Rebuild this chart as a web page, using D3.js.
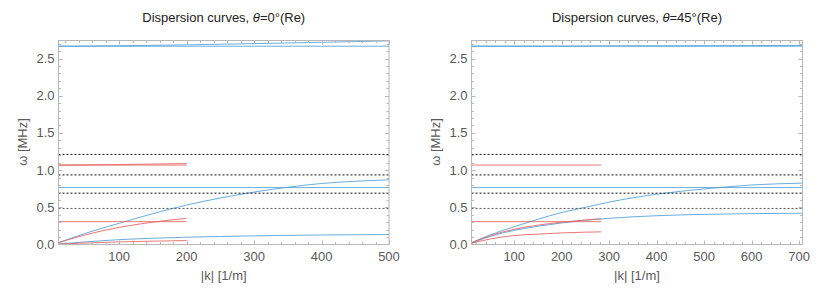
<!DOCTYPE html>
<html>
<head>
<meta charset="UTF-8">
<title>Dispersion curves</title>
<script src="https://cdn.jsdelivr.net/npm/d3@7"></script>
<style>
body { margin: 0; background: #fff; font-family: "Liberation Sans", Arial, sans-serif; }
.ticklabel { font-size: 13px; fill: #5a5a5a; }
.title { font-size: 13px; fill: #222; }
.axislabel { font-size: 13px; fill: #5a5a5a; }
.frame { fill: none; stroke: #b8b8b8; stroke-width: 1; }
.tick { stroke: #b8b8b8; stroke-width: 1; }
</style>
</head>
<body>
<svg id="chart" width="830" height="292"></svg>
<script>
// horizontal reference frequencies (dotted), MHz
var refLevels = [1.211, 0.935, 0.690, 0.485];

// ---- theta = 0 deg ----
var k0Full  = [10, 500];
var k0Short = [10, 200];
var k0Curve = [10, 50, 100, 150, 200, 250, 300, 350, 400, 450, 500];
var k0Red   = [10, 50, 100, 150, 200];

var w0TopFlat   = [2.665, 2.665];
var w0TopRise   = [2.665, 2.667, 2.671, 2.677, 2.684, 2.692, 2.700, 2.709, 2.718, 2.727, 2.737];
var w0RedFlatHi = [1.068, 1.068];
var w0RedRiseHi = [1.066, 1.070, 1.075, 1.081, 1.088];
var w0BlueFlat  = [0.765, 0.765];
var w0BlueRise  = [0.025, 0.15, 0.285, 0.415, 0.53, 0.625, 0.705, 0.77, 0.82, 0.85, 0.87];
var w0RedFlatLo = [0.307, 0.307];
var w0RedRise   = [0.025, 0.13, 0.23, 0.30, 0.352];
var w0BlueLow   = [0.006, 0.035, 0.065, 0.084, 0.098, 0.108, 0.116, 0.123, 0.128, 0.131, 0.134];
var w0RedLow    = [0.005, 0.02, 0.035, 0.045, 0.053];

// ---- theta = 45 deg ----
var k45Full  = [10, 707];
var k45Short = [10, 283];
var k45Curve = [10, 50, 100, 150, 200, 250, 300, 400, 500, 600, 707];
var k45Red   = [10, 50, 100, 150, 200, 250, 283];

var w45TopFlat   = [2.665, 2.665];
var w45TopRise   = [2.665, 2.665, 2.666, 2.666, 2.667, 2.668, 2.669, 2.670, 2.672, 2.674, 2.676];
var w45RedFlatHi = [1.068, 1.068];
var w45BlueFlat  = [0.765, 0.765];
var w45BlueRise  = [0.025, 0.13, 0.24, 0.34, 0.43, 0.50, 0.57, 0.676, 0.747, 0.80, 0.825];
var w45RedFlatLo = [0.307, 0.307];
var w45RedRise   = [0.025, 0.12, 0.205, 0.26, 0.30, 0.33, 0.345];
var w45BlueLow   = [0.02, 0.11, 0.19, 0.245, 0.29, 0.325, 0.352, 0.387, 0.405, 0.415, 0.42];
var w45RedLow    = [0.015, 0.075, 0.12, 0.14, 0.156, 0.166, 0.17];

var blue = "#4f9fdb", red = "#e5605e";

function zip(ks, ws) { return ks.map(function(k, i) { return [k, ws[i]]; }); }

var panels = [
	{ left: 58.5, right: 389, kDomain: [10, 500], angle: "0",
	  series: [
		[zip(k0Full, w0TopFlat), blue], [zip(k0Curve, w0TopRise), blue],
		[zip(k0Full, w0BlueFlat), blue], [zip(k0Curve, w0BlueRise), blue],
		[zip(k0Curve, w0BlueLow), blue],
		[zip(k0Short, w0RedFlatHi), red], [zip(k0Red, w0RedRiseHi), red],
		[zip(k0Short, w0RedFlatLo), red], [zip(k0Red, w0RedRise), red],
		[zip(k0Red, w0RedLow), red]
	  ] },
	{ left: 471.5, right: 802.5, kDomain: [10, 707], angle: "45",
	  series: [
		[zip(k45Full, w45TopFlat), blue], [zip(k45Curve, w45TopRise), blue],
		[zip(k45Full, w45BlueFlat), blue], [zip(k45Curve, w45BlueRise), blue],
		[zip(k45Curve, w45BlueLow), blue],
		[zip(k45Short, w45RedFlatHi), red],
		[zip(k45Short, w45RedFlatLo), red], [zip(k45Red, w45RedRise), red],
		[zip(k45Red, w45RedLow), red]
	  ] }
];

var plotTop = 40.5, plotBottom = 244.5;
var svg = d3.select("#chart");

panels.forEach(function(p) {
	var x = d3.scaleLinear().domain(p.kDomain).range([p.left, p.right]);
	var y = d3.scaleLinear().domain([0, 2.742]).range([plotBottom, plotTop]);
	var g = svg.append("g");

	// clip to frame
	var clipId = "clip" + p.angle;
	g.append("clipPath").attr("id", clipId).append("rect")
		.attr("x", p.left).attr("y", plotTop).attr("width", p.right - p.left).attr("height", plotBottom - plotTop);

	var plot = g.append("g").attr("clip-path", "url(#" + clipId + ")");

	var line = d3.line()
		.x(function(d) { return x(d[0]); })
		.y(function(d) { return y(d[1]); })
		.curve(d3.curveMonotoneX);

	p.series.forEach(function(s) {
		plot.append("path")
			.attr("d", line(s[0]))
			.attr("fill", "none")
			.attr("stroke", s[1])
			.attr("stroke-width", 1)
			.attr("stroke-opacity", 0.85);
	});

	// dotted reference lines
	refLevels.forEach(function(w, i) {
		plot.append("line")
			.attr("x1", p.left).attr("x2", p.right)
			.attr("y1", y(w)).attr("y2", y(w))
			.attr("stroke", i == 3 ? "#555" : "#111")
			.attr("stroke-width", 1)
			.attr("stroke-dasharray", "2,2");
	});

	// frame
	g.append("rect").attr("class", "frame")
		.attr("x", p.left).attr("y", plotTop)
		.attr("width", p.right - p.left).attr("height", plotBottom - plotTop);

	// x ticks (bottom + top)
	var xMinor = d3.range(20, p.kDomain[1] + 1, 20).filter(function(v) { return v > p.kDomain[0]; });
	xMinor.forEach(function(v) {
		var len = (v % 100 == 0) ? 4 : 2.5;
		var px = Math.round(x(v)) + 0.5;
		g.append("line").attr("class", "tick").attr("x1", px).attr("x2", px).attr("y1", plotBottom).attr("y2", plotBottom - len);
		g.append("line").attr("class", "tick").attr("x1", px).attr("x2", px).attr("y1", plotTop).attr("y2", plotTop + len);
	});
	d3.range(100, p.kDomain[1] + 1, 100).forEach(function(v) {
		g.append("text").attr("class", "ticklabel")
			.attr("x", x(v)).attr("y", 261)
			.attr("text-anchor", "middle")
			.text(v);
	});

	// y ticks (left + right)
	d3.range(1, 28).forEach(function(i) {
		var v = i / 10;
		var len = (i % 5 == 0) ? 4 : 2.5;
		var py = Math.round(y(v)) + 0.5;
		g.append("line").attr("class", "tick").attr("x1", p.left).attr("x2", p.left + len).attr("y1", py).attr("y2", py);
		g.append("line").attr("class", "tick").attr("x1", p.right).attr("x2", p.right - len).attr("y1", py).attr("y2", py);
	});
	[0, 0.5, 1, 1.5, 2, 2.5].forEach(function(v) {
		g.append("text").attr("class", "ticklabel")
			.attr("x", p.left - 4).attr("y", y(v) + 4.5)
			.attr("text-anchor", "end")
			.text(d3.format(".1f")(v));
	});

	// axis labels
	g.append("text").attr("class", "axislabel")
		.attr("x", (p.left + p.right) / 2).attr("y", 280)
		.attr("text-anchor", "middle")
		.text("|k| [1/m]");
	g.append("text").attr("class", "axislabel")
		.attr("transform", "translate(" + (p.left - 32) + ",142) rotate(-90)")
		.attr("text-anchor", "middle")
		.text("ω [MHz]");

	// title
	var t = g.append("text").attr("class", "title")
		.attr("x", (p.left + p.right) / 2).attr("y", 22)
		.attr("text-anchor", "middle");
	t.append("tspan").text("Dispersion curves, ");
	t.append("tspan").style("font-style", "italic").text("θ");
	t.append("tspan").text("=" + p.angle + "°(Re)");
});
</script>
</body>
</html>
